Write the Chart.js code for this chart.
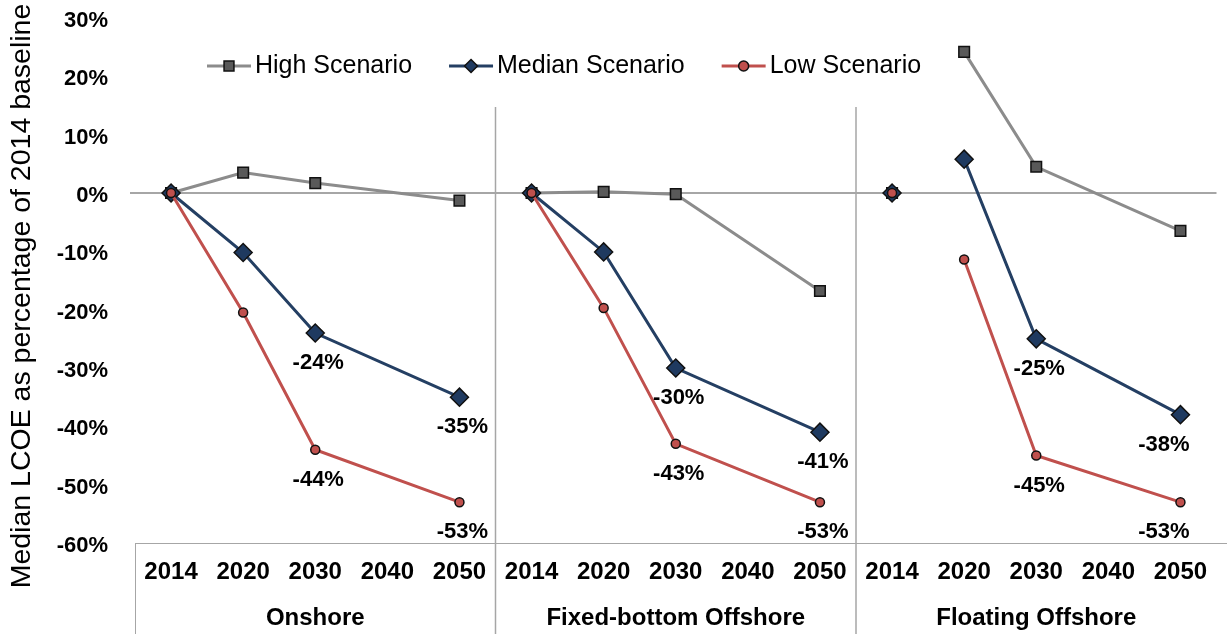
<!DOCTYPE html>
<html>
<head>
<meta charset="utf-8">
<script src="https://cdn.jsdelivr.net/npm/chart.js@4.4.1/dist/chart.umd.min.js"></script>
<style>
  html, body { margin: 0; padding: 0; background: #fff; }
  #wrap { width: 1227px; height: 634px; }
</style>
</head>
<body>
<div id="wrap"><canvas id="lcoeChart"></canvas></div>
<script>
// Median LCOE change against the 2014 baseline, three wind technologies

const years = ['2014', '2020', '2030', '2040', '2050'];
const groups = ['Onshore', 'Fixed-bottom Offshore', 'Floating Offshore'];

// % change per year, one block of five per group (no 2040 estimate)
const highScenario   = [0, 3.5, 1.7, null, -1.3,   0, 0.2, -0.2, null, -16.8,   0, 24.2, 4.5, null, -6.5];
const medianScenario = [0, -10.2, -24, null, -35,  0, -10.1, -30, null, -41,    0, 5.8, -25, null, -38];
const lowScenario    = [0, -20.5, -44, null, -53,  0, -19.7, -43, null, -53,    0, -11.4, -45, null, -53];

// points carrying a value label (2030 and 2050 of each group)
const labelledPoints = [2, 4, 7, 9, 12, 14];
// a line does not continue past these points
const unlinked = [4, 9, 10];

const categories = groups.flatMap(() => years);

Chart.defaults.font.family = '"Liberation Sans", Arial, sans-serif';
Chart.defaults.color = '#000';

const hideLink = ctx => unlinked.includes(ctx.p0DataIndex) ? 'transparent' : undefined;

function series(label, data, line, fill, style, radius, legendRadius, order) {
    return {
        label: label,
        data: data,
        borderColor: line,
        backgroundColor: fill,
        borderWidth: 3,
        pointStyle: style,
        pointRadius: radius,
        pointHoverRadius: radius,
        pointBackgroundColor: fill,
        pointBorderColor: '#111',
        pointBorderWidth: 1.5,
        spanGaps: true,
        order: order,
        legendRadius: legendRadius,
        segment: { borderColor: hideLink }
    };
}

function drawMarker(c, style, x, y, r, fill) {
    c.beginPath();
    if (style === 'rect') {
        const s = r * Math.SQRT1_2;
        c.rect(x - s, y - s, 2 * s, 2 * s);
    } else if (style === 'rectRot') {
        c.moveTo(x, y - r);
        c.lineTo(x + r, y);
        c.lineTo(x, y + r);
        c.lineTo(x - r, y);
        c.closePath();
    } else {
        c.arc(x, y, r, 0, Math.PI * 2);
    }
    c.fillStyle = fill;
    c.fill();
    c.lineWidth = 1.5;
    c.strokeStyle = '#111';
    c.stroke();
}

// panel dividers, x-axis box, group names, value labels, legend and axis title
const decorations = {
    id: 'decorations',
    beforeDatasetsDraw(chart) {
        const c = chart.ctx;
        const x = chart.scales.x;
        const area = chart.chartArea;
        c.save();
        c.strokeStyle = '#a6a6a6';
        c.lineWidth = 1;
        c.beginPath();
        c.moveTo(area.left, area.bottom + 0.5);
        c.lineTo(chart.width, area.bottom + 0.5);
        c.moveTo(area.left + 0.5, area.bottom);
        c.lineTo(area.left + 0.5, chart.height);
        c.stroke();
        c.lineWidth = 1.5;
        c.beginPath();
        for (let g = 1; g < groups.length; g++) {
            const i = g * years.length;
            const px = (x.getPixelForValue(i - 1) + x.getPixelForValue(i)) / 2;
            c.moveTo(px, 107);
            c.lineTo(px, chart.height);
        }
        c.stroke();
        c.restore();
    },
    afterDatasetsDraw(chart) {
        const c = chart.ctx;
        const area = chart.chartArea;
        c.save();
        c.font = 'bold 22px "Liberation Sans", Arial, sans-serif';
        c.fillStyle = '#000';
        c.textAlign = 'center';
        c.textBaseline = 'middle';
        [1, 2].forEach(d => {
            const meta = chart.getDatasetMeta(d);
            const values = chart.data.datasets[d].data;
            labelledPoints.forEach(i => {
                const pt = meta.data[i];
                const text = Math.round(values[i]) + '%';
                const w = c.measureText(text).width;
                const cx = Math.min(pt.x + 3, area.right - 27 - w / 2);
                c.fillText(text, cx, pt.y + 30);
            });
        });

        // group names under the year ticks
        const x = chart.scales.x;
        c.font = 'bold 24px "Liberation Sans", Arial, sans-serif';
        groups.forEach((name, g) => {
            c.fillText(name, x.getPixelForValue(g * years.length + 2), 618);
        });

        // legend: line segment with marker, then the name
        c.font = '25px "Liberation Sans", Arial, sans-serif';
        c.textAlign = 'left';
        let lx = 207;
        const ly = 66;
        chart.data.datasets.forEach(ds => {
            c.strokeStyle = ds.borderColor;
            c.lineWidth = 3;
            c.beginPath();
            c.moveTo(lx, ly);
            c.lineTo(lx + 44, ly);
            c.stroke();
            drawMarker(c, ds.pointStyle, lx + 22, ly, ds.legendRadius, ds.pointBackgroundColor);
            c.fillStyle = '#000';
            c.fillText(ds.label, lx + 48, ly);
            lx += 48 + c.measureText(ds.label).width + 37;
        });

        // y axis title
        c.translate(22, 296);
        c.rotate(-Math.PI / 2);
        c.textAlign = 'center';
        c.font = '28.5px "Liberation Sans", Arial, sans-serif';
        c.fillText('Median LCOE as percentage of 2014 baseline', 0, 0);
        c.restore();
    }
};

new Chart(document.getElementById('lcoeChart'), {
    type: 'line',
    data: {
        labels: categories,
        datasets: [
            series('High Scenario', highScenario, '#8c8c8c', '#595959', 'rect', 7.5, 7, 2),
            series('Median Scenario', medianScenario, '#243f63', '#1f3a60', 'rectRot', 9, 6.5, 1),
            series('Low Scenario', lowScenario, '#c0504d', '#c0504d', 'circle', 4.5, 5, 0)
        ]
    },
    options: {
        responsive: true,
        maintainAspectRatio: false,
        animation: false,
        layout: { padding: { top: 18, right: 2, left: 0, bottom: 0 } },
        plugins: {
            legend: { display: false },
            tooltip: { enabled: false }
        },
        scales: {
            x: {
                offset: true,
                grid: { display: false, drawTicks: false },
                border: { display: false },
                ticks: {
                    autoSkip: false,
                    maxRotation: 0,
                    padding: 15,
                    font: { size: 24, weight: 'bold' }
                },
                afterFit(scale) {
                    scale.height = 91;
                    scale.paddingLeft = 0;
                    scale.paddingRight = 0;
                }
            },
            y: {
                min: -60,
                max: 30,
                border: { display: false },
                grid: {
                    color: ctx => ctx.tick && ctx.tick.value === 0 ? '#a6a6a6' : 'transparent',
                    lineWidth: 2,
                    tickLength: 5
                },
                ticks: {
                    stepSize: 10,
                    padding: 22,
                    labelOffset: 3,
                    font: { size: 22, weight: 'bold' },
                    callback: v => v + '%'
                },
                afterFit(scale) {
                    scale.width = 135;
                    scale.paddingTop = 0;
                    scale.paddingBottom = 0;
                }
            }
        }
    },
    plugins: [decorations]
});
</script>
</body>
</html>
